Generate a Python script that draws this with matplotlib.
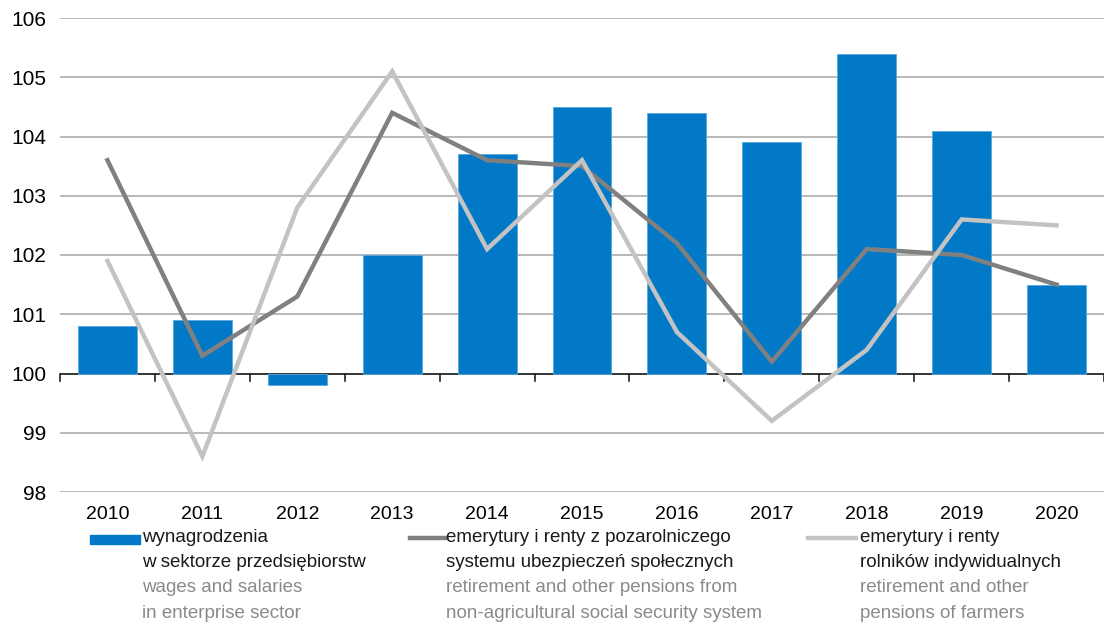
import matplotlib
matplotlib.use("Agg")
import matplotlib.pyplot as plt
import numpy as np

plt.rcParams['font.family'] = ['Liberation Sans', 'DejaVu Sans']

years = ['2010', '2011', '2012', '2013', '2014', '2015', '2016', '2017', '2018', '2019', '2020']
wages = [100.8, 100.9, 99.8, 102.0, 103.7, 104.5, 104.4, 103.9, 105.4, 104.1, 101.5]
pensions_nonagri = [103.6, 100.3, 101.3, 104.4, 103.6, 103.5, 102.2, 100.2, 102.1, 102.0, 101.5]
pensions_farmers = [101.9, 98.6, 102.8, 105.1, 102.1, 103.6, 100.7, 99.2, 100.4, 102.6, 102.5]

blue = '#0279c7'
dark = '#808080'
light = '#c3c3c3'

fig = plt.figure(figsize=(11.04, 6.25), dpi=100)
ax = fig.add_axes([60/1104, 1 - 492/625, 1 - 60/1104, (492 - 18)/625])

x = np.arange(len(years))
base = 100
ax.bar(x, np.array(wages) - base, bottom=base, width=0.62, color=blue,
       edgecolor='#5aa8dd', linewidth=0.6, zorder=2)
ax.plot(x, pensions_nonagri, color=dark, lw=3.2, zorder=3, solid_joinstyle='miter')
ax.plot(x, pensions_farmers, color=light, lw=3.2, zorder=4, solid_joinstyle='miter')

ax.set_xlim(-0.5, len(years) - 0.5)
ax.set_ylim(98, 106)
ax.set_yticks(range(98, 107))
ax.yaxis.grid(True, color='#ababab', lw=1.2, zorder=0)
ax.set_axisbelow(True)
for s in ax.spines.values():
    s.set_visible(False)
ax.axhline(100, color='#222222', lw=1.2, zorder=1.5)
ax.tick_params(axis='y', length=0, labelsize=15, pad=10)
ax.set_xticks([])
# ticks on the 100 line at category boundaries
for b in np.arange(-0.5, len(years), 1.0):
    ax.plot([b, b], [100, 99.87], color='#222222', lw=1.2, zorder=1.5, clip_on=False)
for i, yr in enumerate(years):
    ax.text(i, 97.62, yr, ha='center', va='center', fontsize=14)

# legend
def px(xp, yp):
    return xp / 1104, 1 - yp / 625

fig.patches.append(plt.Rectangle(px(90, 544), 50/1104, 9/625, color=blue,
                                 transform=fig.transFigure))
fig.lines.append(plt.Line2D([410/1104, 445/1104], [1 - 538/625] * 2, color=dark, lw=3.2,
                            transform=fig.transFigure))
fig.lines.append(plt.Line2D([808/1104, 856/1104], [1 - 538/625] * 2, color=light, lw=3.2,
                            transform=fig.transFigure))

legend_texts = [
    (142, ['wynagrodzenia', 'w sektorze przedsiębiorstw'],
     ['wages and salaries', 'in enterprise sector']),
    (446, ['emerytury i renty z pozarolniczego', 'systemu ubezpieczeń społecznych'],
     ['retirement and other pensions from', 'non-agricultural social security system']),
    (860, ['emerytury i renty', 'rolników indywidualnych'],
     ['retirement and other', 'pensions of farmers']),
]
for xp, pl, en in legend_texts:
    lines = [(t, '#1a1a1a') for t in pl] + [(t, '#8a8a8a') for t in en]
    for k, (t, c) in enumerate(lines):
        fig.text(*px(xp, 537 + 25.5 * k), t, ha='left', va='center', fontsize=13.5, color=c)

fig.savefig('out.png', dpi=100)
